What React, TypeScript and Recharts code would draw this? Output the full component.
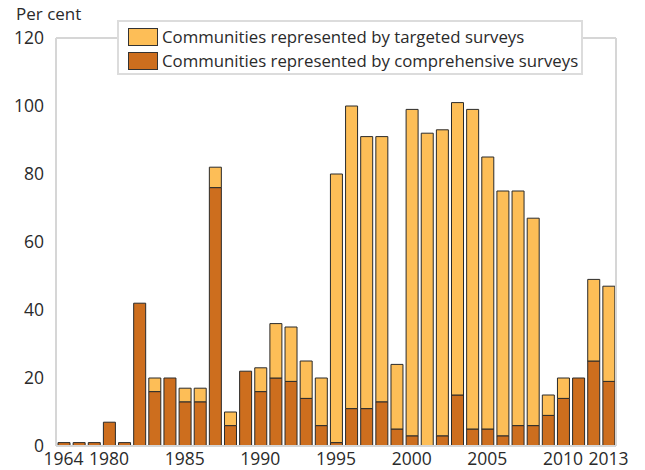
import { BarChart, Bar, XAxis, YAxis, CartesianGrid } from "recharts";

const years = [
  "1964", "1971", "1976", "1980", "1981", "1982", "1983", "1984", "1985",
  "1986", "1987", "1988", "1989", "1990", "1991", "1992", "1993", "1994",
  "1995", "1996", "1997", "1998", "1999", "2000", "2001", "2002", "2003",
  "2004", "2005", "2006", "2007", "2008", "2009", "2010", "2011", "2012",
  "2013",
];

// bottom segment
const comprehensive = [
  1, 1, 1, 7, 1, 42, 16, 20, 13, 13, 76, 6, 22, 16, 20, 19, 14, 6, 1, 11, 11,
  13, 5, 3, 0, 3, 15, 5, 5, 3, 6, 6, 9, 14, 20, 25, 19,
];

// top segment
const targeted = [
  0, 0, 0, 0, 0, 0, 4, 0, 4, 4, 6, 4, 0, 7, 16, 16, 11, 14, 79, 89, 80, 78,
  19, 96, 92, 90, 86, 94, 80, 72, 69, 61, 6, 6, 0, 24, 28,
];

const xTicks = ["1964", "1980", "1985", "1990", "1995", "2000", "2005", "2010", "2013"];
const yTicks = [0, 20, 40, 60, 80, 100, 120];

const LIGHT = "#FDBE57";
const DARK = "#CD6E1E";
const FONT = "'Open Sans', sans-serif";
const TEXT = "#2a2a2a";

const data = years.map((year, i) => ({
  year,
  comprehensive: comprehensive[i],
  targeted: targeted[i],
}));

const legendItems = [
  { label: "Communities represented by targeted surveys", color: LIGHT },
  { label: "Communities represented by comprehensive surveys", color: DARK },
];

const LegendBox = () => (
  <div
    style={{
      position: "absolute",
      left: 117,
      top: 20,
      width: 466,
      height: 55,
      boxSizing: "border-box",
      border: "2px solid #dcdcdc",
      background: "#fff",
      padding: "3px 0 0 9px",
      fontFamily: FONT,
      fontSize: 16.8,
      color: TEXT,
      lineHeight: "24px",
      whiteSpace: "nowrap",
    }}
  >
    {legendItems.map((it) => (
      <div key={it.label} style={{ display: "flex", alignItems: "center" }}>
        <span
          style={{
            display: "inline-block",
            width: 28,
            height: 16,
            background: it.color,
            border: "1px solid #333",
            marginRight: 4,
          }}
        />
        {it.label}
      </div>
    ))}
  </div>
);

export default function App() {
  return (
    <div style={{ position: "absolute", left: 0, top: 0, width: 645, height: 470 }}>
      <div
        style={{
          position: "absolute",
          left: 16,
          top: 2,
          fontFamily: FONT,
          fontSize: 17,
          color: TEXT,
        }}
      >
        Per cent
      </div>
      <BarChart
        width={645}
        height={470}
        data={data}
        margin={{ top: 38, right: 28, bottom: 1, left: 0 }}
        barSize={12}
      >
        <CartesianGrid vertical={false} stroke="#d6d6d6" strokeWidth={2} />
        <XAxis
          dataKey="year"
          ticks={xTicks}
          interval={0}
          tickLine={false}
          axisLine={{ stroke: "#d6d6d6", strokeWidth: 2 }}
          tick={{ fill: TEXT, fontSize: 17.5, fontFamily: FONT }}
          tickMargin={1}
          height={23}
        />
        <YAxis
          yAxisId="left"
          domain={[0, 120]}
          ticks={yTicks}
          tickLine={false}
          axisLine={{ stroke: "#d6d6d6", strokeWidth: 2 }}
          tick={{ fill: TEXT, fontSize: 17.5, fontFamily: FONT }}
          tickMargin={6}
          width={56}
        />
        <YAxis
          yAxisId="right"
          orientation="right"
          domain={[0, 120]}
          tick={false}
          tickLine={false}
          axisLine={{ stroke: "#d6d6d6", strokeWidth: 2 }}
          width={1}
        />
        <Bar
          yAxisId="left"
          dataKey="comprehensive"
          stackId="a"
          fill={DARK}
          stroke="#2a2a2a"
          strokeWidth={1}
          isAnimationActive={false}
        />
        <Bar
          yAxisId="left"
          dataKey="targeted"
          stackId="a"
          fill={LIGHT}
          stroke="#2a2a2a"
          strokeWidth={1}
          isAnimationActive={false}
        />
      </BarChart>
      <LegendBox />
    </div>
  );
}
